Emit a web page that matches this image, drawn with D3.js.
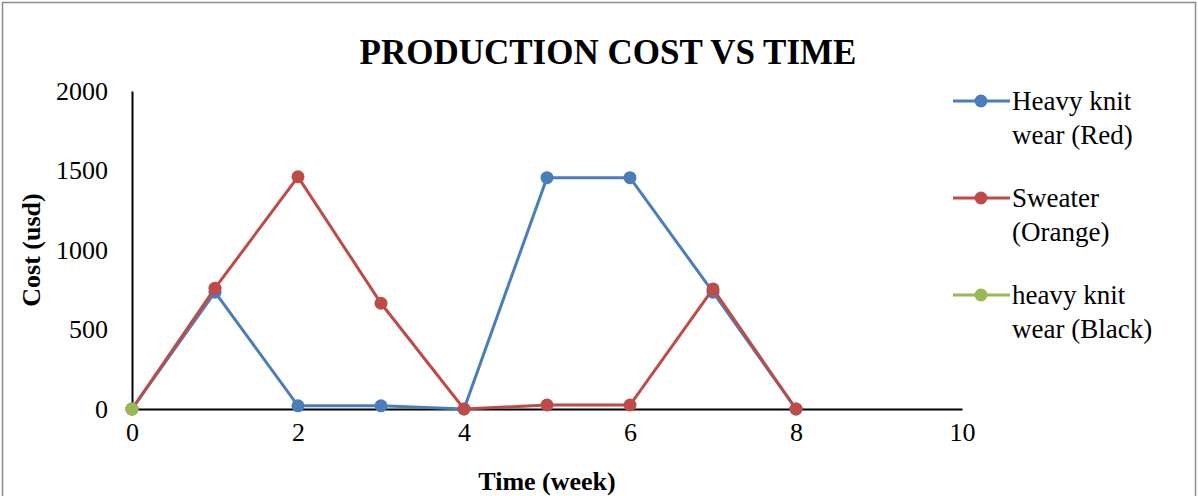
<!DOCTYPE html>
<html><head><meta charset="utf-8">
<script src="https://cdn.jsdelivr.net/npm/d3@7"></script>
<style>body{margin:0;background:#fff;font-family:"Liberation Serif","Times New Roman",serif;}</style>
</head><body>
<script>
var weeks = [0, 1, 2, 3, 4, 5, 6, 7, 8];
var heavyRed = [0, 735, 20, 20, 0, 1455, 1455, 735, 0];
var sweater = [0, 760, 1460, 665, 0, 25, 25, 755, 0];
var heavyBlack = [0];
var seriesNames = [["Heavy knit", "wear (Red)"], ["Sweater", "(Orange)"], ["heavy knit", "wear (Black)"]];
var colors = ["#4a7ebb", "#be4b48", "#98b954"];
var xTicks = [0, 2, 4, 6, 8, 10];
var yTicks = [0, 500, 1000, 1500, 2000];

var svg = d3.select("body").append("svg").attr("width", 1198).attr("height", 496);
svg.append("rect").attr("x", 2.5).attr("y", 2.5).attr("width", 1193).attr("height", 500)
  .attr("fill", "none").attr("stroke", "#8c8c8c").attr("stroke-width", 1.5);

var x = d3.scaleLinear().domain([0, 10]).range([132, 962]);
var y = d3.scaleLinear().domain([0, 2000]).range([409, 91]);

svg.append("text").attr("x", 608).attr("y", 64).attr("text-anchor", "middle")
  .attr("font-weight", "bold").attr("font-size", 35).text("PRODUCTION COST VS TIME");

var xa = svg.append("g").attr("transform", "translate(0," + y(0) + ")")
  .call(d3.axisBottom(x).tickValues(xTicks).tickSize(0).tickPadding(14).tickFormat(d3.format("d")));
var ya = svg.append("g").attr("transform", "translate(" + x(0) + ",0)")
  .call(d3.axisLeft(y).tickValues(yTicks).tickSize(0).tickPadding(24).tickFormat(d3.format("d")));
[xa, ya].forEach(function(a) {
  a.selectAll("text").attr("font-family", "Liberation Serif").attr("font-size", 26).attr("fill", "#000");
  a.select(".domain").attr("stroke", "#000").attr("stroke-width", 2);
});

svg.append("text").attr("x", 547).attr("y", 490).attr("text-anchor", "middle")
  .attr("font-weight", "bold").attr("font-size", 26).text("Time (week)");
svg.append("text").attr("transform", "translate(40,250) rotate(-90)").attr("text-anchor", "middle")
  .attr("font-weight", "bold").attr("font-size", 26).text("Cost (usd)");

var line = d3.line().x(function(d) { return x(d[0]); }).y(function(d) { return y(d[1]); });
[heavyRed, sweater, heavyBlack].forEach(function(s, i) {
  var pts = s.map(function(v, j) { return [weeks[j], v]; });
  svg.append("path").datum(pts).attr("d", line).attr("fill", "none")
    .attr("stroke", colors[i]).attr("stroke-width", 3);
  svg.selectAll(null).data(pts).enter().append("circle")
    .attr("cx", function(d) { return x(d[0]); }).attr("cy", function(d) { return y(d[1]); })
    .attr("r", 6.5).attr("fill", colors[i]);
});

seriesNames.forEach(function(n, i) {
  var ly = 101 + i * 97;
  svg.append("line").attr("x1", 953).attr("x2", 1010).attr("y1", ly).attr("y2", ly)
    .attr("stroke", colors[i]).attr("stroke-width", 3);
  svg.append("circle").attr("cx", 981).attr("cy", ly).attr("r", 6.5).attr("fill", colors[i]);
  n.forEach(function(t, k) {
    svg.append("text").attr("x", 1012).attr("y", ly + 9 + k * 34).attr("font-size", 27).text(t);
  });
});
</script>
</body></html>
